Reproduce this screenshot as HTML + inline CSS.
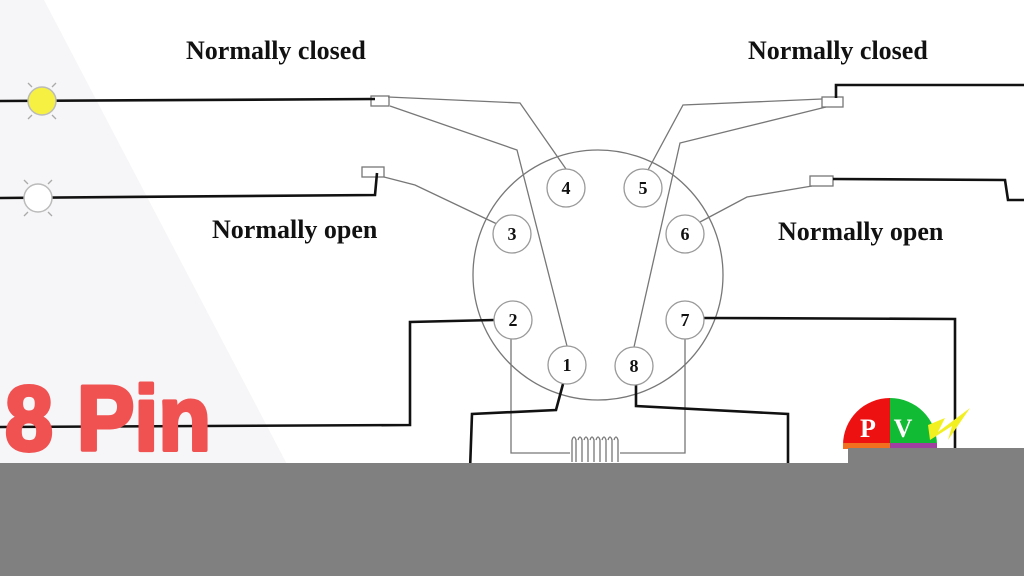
<!DOCTYPE html>
<html><head><style>
html,body{margin:0;padding:0;width:1024px;height:576px;overflow:hidden;background:#fff}
</style></head><body>
<svg width="1024" height="576" viewBox="0 0 1024 576" xmlns="http://www.w3.org/2000/svg">
<polygon points="0,0 44,0 290,470 0,470" fill="#f6f6f8"/>
<g font-family="Liberation Serif, serif" font-weight="bold" font-size="26" fill="#111">
<text x="186" y="59">Normally closed</text>
<text x="212" y="238">Normally open</text>
<text x="748" y="59">Normally closed</text>
<text x="778" y="240">Normally open</text>
</g>
<g fill="none" stroke="#777" stroke-width="1.3">
<circle cx="598" cy="275" r="125"/>
<polyline points="388,97 520,103 566,169"/>
<polyline points="390,106 517,150 567,346"/>
<polyline points="384,177 415,185 497,224"/>
<polyline points="822,99 683,105 648,170"/>
<polyline points="826,107 680,143 634,347"/>
<polyline points="812,186 747,197 700,222"/>
<polyline points="511,339 511,453 570,453"/>
<polyline points="620,453 685,453 685,339"/>
<rect x="371" y="96" width="18" height="10"/>
<rect x="362" y="167" width="22" height="10"/>
<rect x="822" y="97" width="21" height="10"/>
<rect x="810" y="176" width="23" height="10"/>
<path d="M572 440 q2-6 4 0 v22 M578 440 q2-6 4 0 v22 M584 440 q2-6 4 0 v22 M590 440 q2-6 4 0 v22 M596 440 q2-6 4 0 v22 M602 440 q2-6 4 0 v22 M608 440 q2-6 4 0 v22 M614 440 q2-6 4 0 v22 M572 440 v22 M618 440 v22"/>
<path d="M32 87 l-4 -4 M52 87 l4 -4 M32 115 l-4 4 M52 115 l4 4 M28 184 l-4 -4 M48 184 l4 -4 M28 212 l-4 4 M48 212 l4 4" stroke="#aaa"/>
</g>
<g fill="none" stroke="#111" stroke-width="2.6">
<polyline points="0,101 375,99"/>
<polyline points="0,198 375,195 377,173"/>
<polyline points="836,98 836,85 1024,85"/>
<polyline points="833,179 1005,180 1008,200 1024,200"/>
<polyline points="494,320 410,322 410,425 0,427"/>
<polyline points="704,318 955,319 955,470"/>
<polyline points="563,384 556,410 472,414 470,470"/>
<polyline points="636,384 636,406 788,414 788,470"/>
</g>
<circle cx="42" cy="101" r="14" fill="#f5f042" stroke="#bbb" stroke-width="1.5"/>
<circle cx="38" cy="198" r="14" fill="#fff" stroke="#bbb" stroke-width="1.5"/>
<g stroke="#999" stroke-width="1.3" fill="#fff">
<circle cx="566" cy="188" r="19"/><circle cx="643" cy="188" r="19"/>
<circle cx="512" cy="234" r="19"/><circle cx="685" cy="234" r="19"/>
<circle cx="513" cy="320" r="19"/><circle cx="685" cy="320" r="19"/>
<circle cx="567" cy="365" r="19"/><circle cx="634" cy="366" r="19"/>
</g>
<g font-family="Liberation Serif, serif" font-weight="bold" font-size="18" fill="#111" text-anchor="middle">
<text x="566" y="194">4</text><text x="643" y="194">5</text>
<text x="512" y="240">3</text><text x="685" y="240">6</text>
<text x="513" y="326">2</text><text x="685" y="326">7</text>
<text x="567" y="371">1</text><text x="634" y="372">8</text>
</g>
<path d="M843 445 A47 47 0 0 1 890 398 V445 Z" fill="#ee1111"/>
<path d="M890 398 A47 47 0 0 1 937 445 H890 Z" fill="#11bb33"/>
<rect x="843" y="443" width="47" height="6" fill="#f07020"/>
<rect x="890" y="443" width="47" height="6" fill="#a040a0"/>
<polygon points="928,425 945,418 938,432 970,408 948,440 952,426 930,440" fill="#f2f020"/>
<g font-family="Liberation Serif, serif" font-weight="bold" font-size="26" fill="#fff" text-anchor="middle">
<text x="868" y="437">P</text><text x="903" y="437">V</text>
</g>
<text x="5" y="450" font-family="Liberation Sans, sans-serif" font-weight="bold" font-size="92" fill="#f05252" stroke="#f05252" stroke-width="4" stroke-linejoin="round" textLength="206" lengthAdjust="spacingAndGlyphs">8 Pin</text>
<rect x="0" y="463" width="1024" height="113" fill="#808080"/>
<rect x="848" y="448" width="176" height="20" fill="#808080"/>
</svg>
</body></html>
